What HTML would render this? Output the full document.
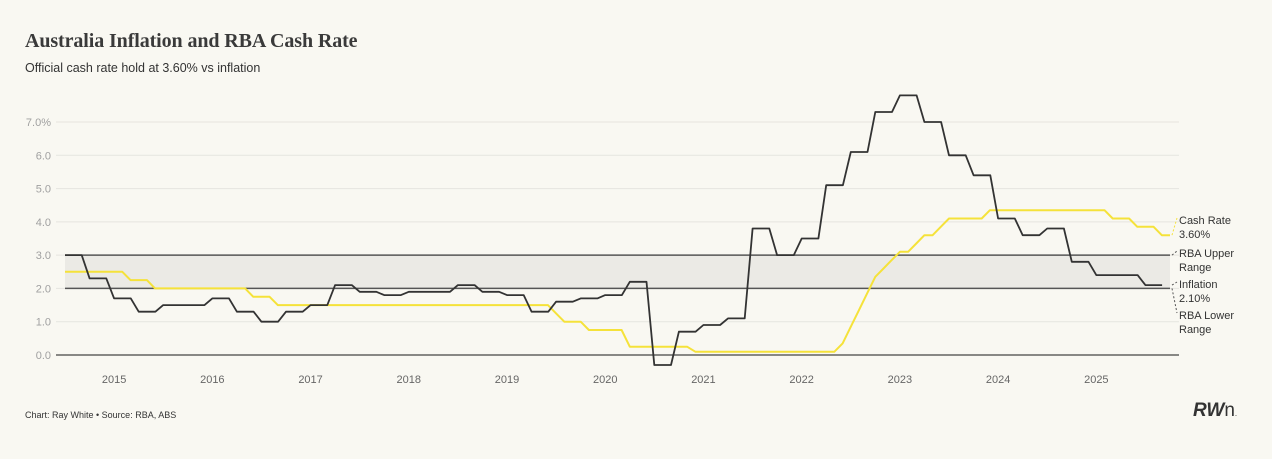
<!DOCTYPE html>
<html><head><meta charset="utf-8"><style>
html,body{margin:0;padding:0;background:#f9f8f2;}
body{width:1272px;height:459px;overflow:hidden;position:relative;font-family:"Liberation Sans",sans-serif;}
.t{position:absolute;white-space:nowrap;}
</style></head><body>
<div class="t" style="left:25px;top:30px;font-family:'Liberation Serif',serif;font-weight:bold;font-size:20px;color:#3a3a3a;letter-spacing:-0.1px;">Australia Inflation and RBA Cash Rate</div>
<div class="t" style="left:25px;top:61px;font-size:12.5px;color:#333;">Official cash rate hold at 3.60% vs inflation</div>
<svg id="chart" width="1272" height="459" style="position:absolute;left:0;top:0" xmlns="http://www.w3.org/2000/svg"></svg>
<div class="t" style="left:25px;top:410px;font-size:9px;color:#333;">Chart: Ray White • Source: RBA, ABS</div>
<div class="t" style="left:1193px;top:400px;font-size:19px;color:#333;"><b><i>RW</i></b><span style="font-weight:300">n</span><span style="font-size:8px">.</span></div>
<script>
const yTicks=[0,1,2,3,4,5,6,7];
const yTickLabels=['0.0','1.0','2.0','3.0','4.0','5.0','6.0','7.0%'];
const years=[2015,2016,2017,2018,2019,2020,2021,2022,2023,2024,2025];
const inflationValues=[3.0,2.3,1.7,1.3,1.5,1.5,1.7,1.3,1.0,1.3,1.5,2.1,1.9,1.8,1.9,1.9,2.1,1.9,1.8,1.3,1.6,1.7,1.8,2.2,-0.3,0.7,0.9,1.1,3.8,3.0,3.5,5.1,6.1,7.3,7.8,7.0,6.0,5.4,4.1,3.6,3.8,2.8,2.4,2.4,2.1];
const inflationStart=2014.5;
const cashDates=['2014-07','2015-02','2015-05','2016-05','2016-08','2019-06','2019-07','2019-10','2020-03','2020-11','2022-05','2022-06','2022-07','2022-08','2022-09','2022-10','2022-11','2022-12','2023-02','2023-03','2023-05','2023-06','2023-11','2025-02','2025-05','2025-08'];
const cashRates=[2.5,2.25,2.0,1.75,1.5,1.25,1.0,0.75,0.25,0.10,0.35,0.85,1.35,1.85,2.35,2.60,2.85,3.10,3.35,3.60,3.85,4.10,4.35,4.10,3.85,3.60];
const bandLow=2, bandHigh=3;

const svg=document.getElementById('chart');
const NS='http://www.w3.org/2000/svg';
const X0=65,X1=1170,T0=2014.5,T1=2025.75;
const x=t=>X0+(t-T0)/(T1-T0)*(X1-X0);
const y=v=>355-v*(233/7);
function mk(tag,attrs){const e=document.createElementNS(NS,tag);for(const k in attrs)e.setAttribute(k,attrs[k]);svg.appendChild(e);return e;}

yTicks.forEach((v,i)=>{
  const g=mk('line',{x1:56,x2:1179,y1:y(v),y2:y(v),stroke:v===0?'#444':'#e6e5df','stroke-width':v===0?1.2:1});
  
  
  const t=mk('text',{x:51,y:y(v)+4,'text-anchor':'end','font-size':11,fill:'#a0a0a0','font-family':'Liberation Sans, sans-serif'});
  t.textContent=yTickLabels[i];
  
  
});
years.forEach(yr=>{
  const t=mk('text',{x:x(yr),y:383,'text-anchor':'middle','font-size':11,fill:'#666','font-family':'Liberation Sans, sans-serif'});
  t.textContent=yr;
  
  
});
const band=mk('rect',{x:X0,y:y(bandHigh),width:X1-X0,height:y(bandLow)-y(bandHigh),fill:'#ebeae5'});


[bandHigh,bandLow].forEach(v=>{
  const l=mk('line',{x1:X0,x2:X1,y1:y(v),y2:y(v),stroke:'#555','stroke-width':1.5});
  
  
});
// cash rate monthly (plotted at month end)
const evT=cashDates.map(d=>{const [a,b]=d.split('-').map(Number);return a+(b-1)/12;});
let cp=[x(T0).toFixed(1)+','+y(cashRates[0]).toFixed(1)];
for(let t=T0;t<T1-1e-6;t+=1/12){
  let r=cashRates[0];
  for(let i=0;i<evT.length;i++) if(evT[i]<=t+1e-6) r=cashRates[i];
  cp.push(x(Math.min(t+1/12,T1)).toFixed(1)+','+y(r).toFixed(1));
}
const cl=mk('polyline',{points:cp.join(' '),fill:'none',stroke:'#f5e23a','stroke-width':2,'stroke-linejoin':'round'});


// inflation quarterly
let ip=[];
inflationValues.forEach((v,i)=>{
  const t=inflationStart+i*0.25;
  ip.push(x(t).toFixed(1)+','+y(v).toFixed(1));
  ip.push(Math.min(x(t+0.17),X1).toFixed(1)+','+y(v).toFixed(1));
});
const il=mk('polyline',{points:ip.join(' '),fill:'none',stroke:'#333','stroke-width':1.8,'stroke-linejoin':'round'});


// labels
const lastCash=cashRates[cashRates.length-1], lastInf=inflationValues[inflationValues.length-1];
const labels=[
 {n:'cash-rate-label',l1:'Cash Rate',l2:lastCash.toFixed(2)+'%',ly:223,v:lastCash,c:'#f5e23a'},
 {n:'rba-upper-label',l1:'RBA Upper',l2:'Range',ly:256,v:bandHigh,c:'#555'},
 {n:'inflation-label',l1:'Inflation',l2:lastInf.toFixed(2)+'%',ly:287,v:lastInf,c:'#555'},
 {n:'rba-lower-label',l1:'RBA Lower',l2:'Range',ly:318,v:bandLow,c:'#555'}];
labels.forEach(o=>{
  const ld=mk('line',{x1:X1+2,y1:y(o.v),x2:1177,y2:o.ly-5,stroke:o.c,'stroke-width':1,'stroke-dasharray':'2,2'});
  
  
  const t=mk('text',{x:1179,y:o.ly+1,'font-size':11,fill:'#333','font-family':'Liberation Sans, sans-serif'});
  
  
  const a=document.createElementNS(NS,'tspan');a.setAttribute('x',1179);a.textContent=o.l1;t.appendChild(a);
  const b=document.createElementNS(NS,'tspan');b.setAttribute('x',1179);b.setAttribute('dy',14);b.textContent=o.l2;t.appendChild(b);
});
</script>
</body></html>
